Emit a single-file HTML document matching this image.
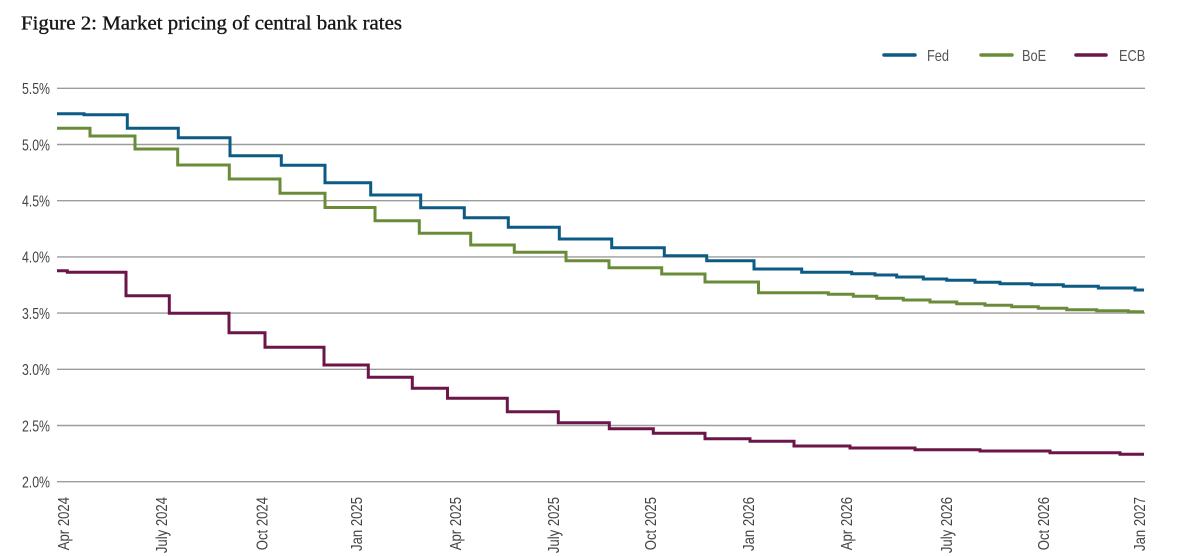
<!DOCTYPE html>
<html>
<head>
<meta charset="utf-8">
<style>
  html, body { margin: 0; padding: 0; background: #ffffff; }
  svg { display: block; }
  .ax { font-family: "Liberation Sans", "DejaVu Sans", sans-serif; font-size: 16px; fill: #444; }
  .lg { font-family: "Liberation Sans", "DejaVu Sans", sans-serif; font-size: 16px; fill: #555; }
</style>
</head>
<body>
<svg width="1177" height="556" viewBox="0 0 1177 556" xmlns="http://www.w3.org/2000/svg">
  <rect width="1177" height="556" fill="#ffffff"/>

  <!-- Title -->
  <text x="21" y="29.5" font-family="'Liberation Serif', 'DejaVu Serif', serif" font-size="19.5" fill="#161616" stroke="#161616" stroke-width="0.35" textLength="381" lengthAdjust="spacingAndGlyphs">Figure 2: Market pricing of central bank rates</text>

  <!-- Legend -->
  <line x1="884" y1="55" x2="915" y2="55" stroke="#0d5a84" stroke-width="3.5" stroke-linecap="round"/>
  <text class="lg" transform="translate(927,61) scale(0.8,1)">Fed</text>
  <line x1="981" y1="55" x2="1012" y2="55" stroke="#6a8c3a" stroke-width="3.5" stroke-linecap="round"/>
  <text class="lg" transform="translate(1022,61) scale(0.8,1)">BoE</text>
  <line x1="1076" y1="55" x2="1106" y2="55" stroke="#6c1549" stroke-width="3.5" stroke-linecap="round"/>
  <text class="lg" transform="translate(1119,61) scale(0.8,1)">ECB</text>

  <!-- Gridlines -->
  <g stroke="#9c9c9c" stroke-width="1.4">
    <line x1="57" y1="88.3" x2="1145" y2="88.3"/>
    <line x1="57" y1="144.5" x2="1145" y2="144.5"/>
    <line x1="57" y1="200.7" x2="1145" y2="200.7"/>
    <line x1="57" y1="256.9" x2="1145" y2="256.9"/>
    <line x1="57" y1="313.1" x2="1145" y2="313.1"/>
    <line x1="57" y1="369.3" x2="1145" y2="369.3"/>
    <line x1="57" y1="425.5" x2="1145" y2="425.5"/>
    <line x1="57" y1="481.7" x2="1145" y2="481.7"/>
  </g>

  <!-- Y axis labels -->
  <g class="ax" text-anchor="end">
    <text transform="translate(50,94.1) scale(0.77,1)">5.5%</text>
    <text transform="translate(50,150.3) scale(0.77,1)">5.0%</text>
    <text transform="translate(50,206.5) scale(0.77,1)">4.5%</text>
    <text transform="translate(50,262.7) scale(0.77,1)">4.0%</text>
    <text transform="translate(50,318.9) scale(0.77,1)">3.5%</text>
    <text transform="translate(50,375.1) scale(0.77,1)">3.0%</text>
    <text transform="translate(50,431.3) scale(0.77,1)">2.5%</text>
    <text transform="translate(50,487.5) scale(0.77,1)">2.0%</text>
  </g>

  <!-- X axis labels -->
  <g class="ax" text-anchor="end">
    <text transform="translate(69.1,497) rotate(-90) scale(0.82,1)">Apr 2024</text>
    <text transform="translate(166.8,497) rotate(-90) scale(0.82,1)">July 2024</text>
    <text transform="translate(267.5,497) rotate(-90) scale(0.82,1)">Oct 2024</text>
    <text transform="translate(361.8,497) rotate(-90) scale(0.82,1)">Jan 2025</text>
    <text transform="translate(460.8,497) rotate(-90) scale(0.82,1)">Apr 2025</text>
    <text transform="translate(558.8,497) rotate(-90) scale(0.82,1)">July 2025</text>
    <text transform="translate(655.8,497) rotate(-90) scale(0.82,1)">Oct 2025</text>
    <text transform="translate(753.8,497) rotate(-90) scale(0.82,1)">Jan 2026</text>
    <text transform="translate(851.8,497) rotate(-90) scale(0.82,1)">Apr 2026</text>
    <text transform="translate(951.8,497) rotate(-90) scale(0.82,1)">July 2026</text>
    <text transform="translate(1048.8,497) rotate(-90) scale(0.82,1)">Oct 2026</text>
    <text transform="translate(1144.8,497) rotate(-90) scale(0.82,1)">Jan 2027</text>
  </g>

  <!-- Series -->
  <g fill="none" stroke-width="3" stroke-linejoin="miter">
    <!-- Fed -->
    <path stroke="#0d5a84" d="M57,113.7 H84 V114.7 H127.3 V128.3 H178.3 V137.7 H230 V155.7 H281.3 V165.3 H325 V182.7 H370.7 V195 H420.7 V207.7 H464.3 V217.7 H508.3 V227.3 H559.3 V239 H611.7 V247.7 H664.3 V255.7 H706.7 V260.7 H754 V269 H801.7 V272.3 H851.7 V273.7 H875 V275 H896.7 V277 H923.3 V279 H946.7 V280.3 H975 V282.3 H1000 V283.7 H1031.7 V284.7 H1063.3 V286.3 H1098.3 V288 H1135 V290 H1144"/>
    <!-- BoE -->
    <path stroke="#6a8c3a" d="M57,128.3 H90 V136 H135 V149 H177.7 V165 H229.3 V179 H280 V193.3 H325 V207.5 H375 V220.7 H419.3 V233.3 H470.7 V245 H514.3 V252.3 H566 V260.7 H609 V267.7 H661.7 V274 H705 V282 H758.5 V292.7 H828.3 V294.3 H853.3 V296.3 H876.7 V298.3 H903.3 V300 H930 V302 H956.7 V303.7 H985 V305.3 H1011.7 V306.7 H1038.3 V308.3 H1066.7 V309.7 H1096.7 V310.7 H1128.3 V311.7 H1144"/>
    <!-- ECB -->
    <path stroke="#6c1549" d="M57,270.7 H67.3 V272.3 H126 V295.7 H169.3 V313.3 H229 V332.7 H265 V347.3 H324 V365 H368.3 V377.3 H412.3 V388.3 H447.5 V398.3 H507.3 V411.7 H558.3 V422.7 H609.3 V428.7 H653.3 V433.3 H705 V438.7 H750 V441.3 H794 V446 H850 V448 H915 V449.7 H980 V451 H1050 V452.7 H1120 V454.3 H1144"/>
  </g>
</svg>
</body>
</html>
